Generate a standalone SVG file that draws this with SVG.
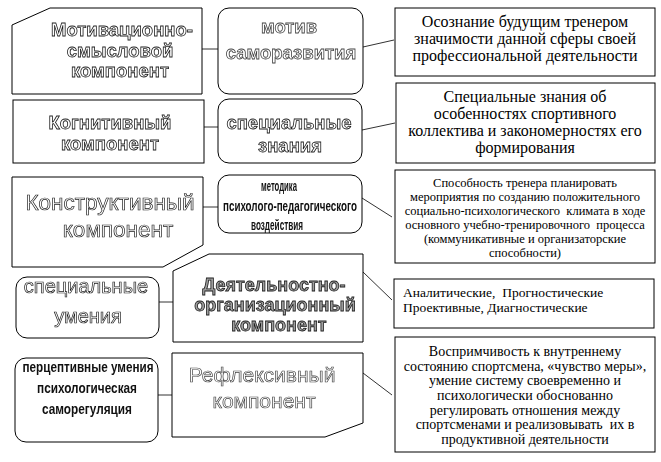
<svg xmlns="http://www.w3.org/2000/svg" width="661" height="462" viewBox="0 0 661 462">
<defs>
<filter id="gray" x="-0.05" y="-0.1" width="1.1" height="1.2"><feColorMatrix type="saturate" values="0"/></filter>
</defs>
<style>
.box{fill:#fff;stroke:#000;stroke-width:1}
.conn{stroke:#333;stroke-width:1;fill:none}
.hol{font-family:"Liberation Sans",Arial,sans-serif;fill:#fff;stroke:#1a1a1a;stroke-width:0.8;text-anchor:middle;filter:url(#gray)}
.b{font-weight:bold}
.dark{fill:#a0a0a0;stroke:#1a1a1a}
.sol{font-family:"Liberation Sans",Arial,sans-serif;font-weight:bold;fill:#111;text-anchor:middle;filter:url(#gray)}
.ser{font-family:"Liberation Serif","Times New Roman",serif;fill:#000;text-anchor:middle}
</style>
<rect width="661" height="462" fill="#fff"/>
<g id="connectors">
<line class="conn" x1="202" y1="49" x2="218" y2="49"/>
<line class="conn" x1="363" y1="47" x2="394" y2="40"/>
<line class="conn" x1="204" y1="127" x2="218" y2="127"/>
<line class="conn" x1="362" y1="130" x2="395" y2="123"/>
<line class="conn" x1="203" y1="207" x2="218" y2="207"/>
<line class="conn" x1="362" y1="198" x2="392" y2="217"/>
<line class="conn" x1="159" y1="302" x2="173" y2="302"/>
<line class="conn" x1="363" y1="272" x2="392" y2="300"/>
<line class="conn" x1="158" y1="395" x2="172" y2="395"/>
<line class="conn" x1="363" y1="373" x2="392" y2="395"/>
</g>
<g id="motiv-comp">
<polygon class="box" points="12,25 50,8 202,8 202,94 12,94"/>
<text class="hol b" font-size="18.5"><tspan x="122" y="36">Мотивационно-</tspan><tspan x="120" y="57">смысловой</tspan><tspan x="120" y="77">компонент</tspan></text>
</g>
<g id="motiv">
<rect class="box" x="218" y="8" width="145" height="86" rx="11"/>
<text class="hol b" font-size="18.5" style="stroke:#444"><tspan x="289" y="33">мотив</tspan><tspan x="291" y="59">саморазвития</tspan></text>
</g>
<g id="motiv-desc">
<rect class="box" x="395" y="8" width="260" height="68"/>
<text class="ser" font-size="16"><tspan x="525" y="27">Осознание будущим тренером</tspan><tspan x="525" y="44">значимости данной сферы своей</tspan><tspan x="525" y="61">профессиональной деятельности</tspan></text>
</g>
<g id="cogn-comp">
<rect class="box" x="13" y="100" width="191" height="63"/>
<text class="hol b" font-size="18.5"><tspan x="110" y="129">Когнитивный</tspan><tspan x="110" y="150">компонент</tspan></text>
</g>
<g id="cogn">
<rect class="box" x="218" y="99" width="144" height="64" rx="11"/>
<text class="hol b" font-size="18.5"><tspan x="289" y="129">специальные</tspan><tspan x="290" y="152">знания</tspan></text>
</g>
<g id="cogn-desc">
<rect class="box" x="396" y="83" width="259" height="80"/>
<text class="ser" font-size="16"><tspan x="525" y="102">Специальные знания об</tspan><tspan x="525" y="119">особенностях спортивного</tspan><tspan x="525" y="136">коллектива и закономерностях его</tspan><tspan x="525" y="153">формирования</tspan></text>
</g>
<g id="constr-comp">
<polygon class="box" points="12,177 203,177 203,245 163,267 12,267"/>
<text class="hol" font-size="22.5" style="stroke-width:0.7"><tspan x="110" y="210">Конструктивный</tspan><tspan x="118" y="237">компонент</tspan></text>
</g>
<g id="constr">
<rect class="box" x="218" y="175" width="144" height="58" rx="11"/>
<text class="sol" font-size="14.5"><tspan x="279" y="191" textLength="36" lengthAdjust="spacingAndGlyphs">методика</tspan><tspan x="290" y="211" textLength="134" lengthAdjust="spacingAndGlyphs">психолого-педагогического</tspan><tspan x="277" y="230" textLength="52" lengthAdjust="spacingAndGlyphs">воздействия</tspan></text>
</g>
<g id="constr-desc">
<rect class="box" x="395" y="170" width="260" height="93"/>
<text class="ser" font-size="12.5"><tspan x="525" y="187">Способность тренера планировать</tspan><tspan x="525" y="201">мероприятия по созданию положительного</tspan><tspan x="525" y="215" xml:space="preserve">социально-психологического  климата в ходе</tspan><tspan x="525" y="229" xml:space="preserve">основного учебно-тренировочного  процесса</tspan><tspan x="525" y="243">(коммуникативные и организаторские</tspan><tspan x="525" y="257">способности)</tspan></text>
</g>
<g id="act">
<rect class="box" x="16" y="277" width="143" height="61" rx="11"/>
<text class="hol" font-size="20" style="stroke-width:0.7"><tspan x="86" y="293">специальные</tspan><tspan x="88" y="323">умения</tspan></text>
</g>
<g id="act-comp">
<polygon class="box" points="173,271 209,254 363,254 363,342 173,342"/>
<text class="hol b dark" font-size="18"><tspan x="274" y="291">Деятельностно-</tspan><tspan x="275" y="311">организационный</tspan><tspan x="279" y="331">компонент</tspan></text>
</g>
<g id="act-desc">
<rect class="box" x="394" y="279" width="260" height="49"/>
<text font-family="Liberation Serif,Times New Roman,serif" font-size="13.5" fill="#000"><tspan x="403" y="297" xml:space="preserve">Аналитические,  Прогностические</tspan><tspan x="403" y="312">Проективные, Диагностические</tspan></text>
</g>
<g id="refl">
<rect class="box" x="15" y="358" width="143" height="84" rx="11"/>
<text class="sol" font-size="15.5"><tspan x="88" y="372" textLength="131" lengthAdjust="spacingAndGlyphs">перцептивные умения</tspan><tspan x="87" y="393" textLength="100" lengthAdjust="spacingAndGlyphs">психологическая</tspan><tspan x="87" y="414" textLength="90" lengthAdjust="spacingAndGlyphs">саморегуляция</tspan></text>
</g>
<g id="refl-comp">
<polygon class="box" points="172,353 363,353 363,423 325,437 172,437"/>
<text class="hol" font-size="21" style="stroke-width:0.7;stroke:#444"><tspan x="262" y="382">Рефлексивный</tspan><tspan x="264" y="408">компонент</tspan></text>
</g>
<g id="refl-desc">
<rect class="box" x="395" y="337" width="260" height="115"/>
<text class="ser" font-size="14"><tspan x="525" y="356">Воспримчивость к внутреннему</tspan><tspan x="525" y="371">состоянию спортсмена, «чувство меры»,</tspan><tspan x="525" y="385">умение систему своевременно и</tspan><tspan x="525" y="400">психологически обоснованно</tspan><tspan x="525" y="415">регулировать отношения между</tspan><tspan x="525" y="429" xml:space="preserve">спортсменами и реализовывать  их в</tspan><tspan x="525" y="444">продуктивной деятельности</tspan></text>
</g>
</svg>
